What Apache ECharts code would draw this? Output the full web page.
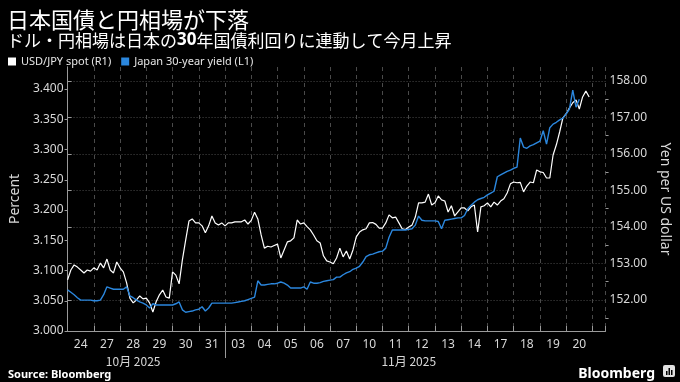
<!DOCTYPE html>
<html><head><meta charset="utf-8">
<script src="https://cdn.jsdelivr.net/npm/echarts@6/dist/echarts.min.js"></script>
<style>html,body{margin:0;padding:0;background:#000;}#c{width:680px;height:382px;}</style>
</head><body><div id="c"></div>
<script>
// ---- data (trading days, 8 intraday samples per day) ----
const dayLabels = ['24','27','28','29','30','31','03','04','05','06','07','10','11','12','13','14','17','18','19','20'];
const monthLabels = ['10月 2025','11月 2025'];
const yieldTicks = [3.0,3.05,3.1,3.15,3.2,3.25,3.3,3.35,3.4];
const yenTicks = [152,153,154,155,156,157,158];
const yenMinorTicks = [151.5,152.5,153.5,154.5,155.5,156.5,157.5];
const samplesPerDay = 8;

const usdjpy = [
  [152.55,152.82,152.96,152.90,152.82,152.74,152.82,152.79],
  [152.88,152.82,153.01,152.88,153.12,152.82,152.74,153.04],
  [152.88,152.77,152.47,152.05,151.92,152.00,152.11,152.03],
  [152.05,151.92,151.67,151.95,152.14,152.27,152.08,152.05],
  [152.77,152.68,152.44,153.10,153.64,154.16,154.22,154.11],
  [154.11,154.03,153.84,154.03,154.30,154.11,154.05,154.11],
  [154.03,154.11,154.11,154.14,154.14,154.14,154.19,154.08],
  [154.18,154.40,154.22,153.78,153.42,153.47,153.45,153.49],
  [153.53,153.15,153.37,153.59,153.62,153.70,154.19,154.08],
  [154.11,154.01,153.92,153.78,153.62,153.56,153.21,153.07],
  [153.04,152.99,153.15,153.42,153.18,153.34,153.12,153.37],
  [153.73,153.86,153.92,153.95,154.11,154.12,154.07,153.97],
  [153.97,154.11,154.33,154.25,154.27,154.11,153.95,153.93],
  [154.00,154.05,154.27,154.66,154.66,154.68,154.90,154.60],
  [154.66,154.85,154.74,154.71,154.41,154.58,154.30,154.41],
  [154.52,154.52,154.44,154.55,154.60,153.86,154.55,154.58],
  [154.66,154.55,154.68,154.60,154.71,154.77,154.93,155.18],
  [155.23,155.21,155.22,154.96,155.12,155.23,155.21,155.56],
  [155.51,155.49,155.34,155.34,155.97,156.25,156.60,156.99],
  [157.10,157.26,157.40,157.48,157.23,157.56,157.72,157.56]
];

const jgb30 = [
  [3.068,3.064,3.060,3.055,3.051,3.051,3.051,3.051],
  [3.050,3.050,3.051,3.060,3.073,3.071,3.069,3.069],
  [3.069,3.069,3.073,3.058,3.055,3.051,3.048,3.046],
  [3.043,3.038,3.045,3.043,3.043,3.043,3.043,3.043],
  [3.043,3.045,3.048,3.035,3.031,3.032,3.033,3.035],
  [3.036,3.040,3.033,3.038,3.046,3.046,3.046,3.046],
  [3.046,3.046,3.046,3.047,3.048,3.049,3.050,3.052],
  [3.054,3.056,3.083,3.076,3.076,3.077,3.078,3.078],
  [3.079,3.081,3.079,3.076,3.071,3.071,3.071,3.071],
  [3.073,3.069,3.081,3.079,3.079,3.080,3.082,3.083],
  [3.084,3.085,3.089,3.089,3.093,3.096,3.098,3.102],
  [3.104,3.107,3.114,3.123,3.126,3.127,3.129,3.131],
  [3.132,3.137,3.155,3.167,3.167,3.167,3.167,3.167],
  [3.168,3.169,3.175,3.190,3.183,3.182,3.182,3.182],
  [3.182,3.181,3.169,3.183,3.184,3.185,3.186,3.187],
  [3.187,3.191,3.202,3.208,3.213,3.217,3.219,3.221],
  [3.225,3.228,3.231,3.255,3.258,3.261,3.264,3.266],
  [3.269,3.271,3.319,3.304,3.302,3.306,3.308,3.311],
  [3.314,3.331,3.309,3.336,3.342,3.345,3.349,3.352],
  [3.359,3.367,3.398,3.370,3.383]
];

function toPoints(days){
  const out = [];
  days.forEach((vals, d) => vals.forEach((v, k) => out.push([d + k / samplesPerDay, v])));
  return out;
}

const LATIN = '"Noto Sans", "DejaVu Sans", sans-serif';
const CJK = '"Noto Sans CJK JP", "Noto Sans", sans-serif';
const AX = '#9a9a9a';
const TXT = '#d8d8d8';
const BLUE = '#2b87de';

const chart = echarts.init(document.getElementById('c'), null, {renderer:'canvas'});
chart.setOption({
  backgroundColor:'#000',
  animation:false,
  textStyle:{fontFamily:LATIN},
  title:[
    {text:'日本国債と円相場が下落', left:2, top:4,
     textStyle:{color:'#fff', fontSize:22, fontWeight:'normal', fontFamily:CJK}},
    {text:'ドル・円相場は日本の{b|30}年国債利回りに連動して今月上昇', left:2, top:27,
     textStyle:{color:'#fff', fontSize:17, fontWeight:'normal', fontFamily:CJK,
       rich:{b:{fontWeight:'bold', fontSize:17, color:'#fff', fontFamily:LATIN}}}},
    {text:'Source: Bloomberg', left:3, top:364,
     textStyle:{color:'#fff', fontSize:11, fontWeight:'bold', fontFamily:LATIN}},
    {text:'Bloomberg', right:20, top:362,
     textStyle:{color:'#fff', fontSize:14, fontWeight:'bold', fontFamily:LATIN}}
  ],
  graphic:[
    {type:'group', right:5, top:365, children:[
      {type:'rect', shape:{x:0,y:0,width:12,height:12,r:2}, style:{fill:'#e0e0e0'}},
      {type:'rect', shape:{x:3,y:6,width:1.5,height:4}, style:{fill:'#000'}},
      {type:'rect', shape:{x:5.5,y:3,width:1.5,height:7}, style:{fill:'#000'}},
      {type:'rect', shape:{x:8,y:5,width:1.5,height:5}, style:{fill:'#000'}}
    ]}
  ],
  legend:{left:3, top:51, itemWidth:8, itemHeight:8, itemGap:10, icon:'rect',
    textStyle:{color:'#e6e6e6', fontSize:11, fontFamily:LATIN},
    data:['USD/JPY spot (R1)','Japan 30-year yield (L1)']},
  grid:{left:56, right:63, top:67, bottom:51},
  xAxis:[
    {type:'value', min:0, max:20.5, interval:1,
     axisLine:{show:true, lineStyle:{color:AX}},
     axisTick:{show:true, inside:true, length:5, lineStyle:{color:AX}},
     splitLine:{show:true, lineStyle:{color:'#4a4a4a', type:[4,4], width:1}},
     axisLabel:{customValues:dayLabels.map((_, i) => i + 0.5),
       formatter:v => dayLabels[Math.floor(v)], color:TXT, fontSize:12, margin:8}},
    {type:'value', min:0, max:20.5, position:'bottom',
     axisLine:{show:false},
     axisTick:{show:true, customValues:[dayLabels.indexOf('03')], length:27, lineStyle:{color:AX}},
     splitLine:{show:false},
     axisLabel:{customValues:[2.5, 13], formatter:v => (v < dayLabels.indexOf('03') ? monthLabels[0] : monthLabels[1]),
       color:TXT, fontSize:12, margin:24, fontFamily:CJK}}
  ],
  yAxis:[
    {type:'value', position:'left', min:3.0, max:3.4364,
     axisLine:{show:true, lineStyle:{color:AX}},
     axisTick:{show:true, customValues:yieldTicks, length:3, lineStyle:{color:AX}},
     axisLabel:{customValues:yieldTicks, formatter:v => v.toFixed(3), color:TXT, fontSize:12, margin:4},
     splitLine:{show:false},
     name:'Percent', nameLocation:'middle', nameGap:37, nameRotate:90,
     nameTextStyle:{color:TXT, fontSize:14}},
    {type:'value', position:'right', min:151.15, max:158.38,
     axisLine:{show:true, lineStyle:{color:AX}},
     axisTick:{show:true, customValues:yenTicks, length:4, lineStyle:{color:AX}},
     axisLabel:{customValues:yenTicks, formatter:v => v.toFixed(2), color:TXT, fontSize:12, margin:4},
     splitLine:{show:true, lineStyle:{color:'#4a4a4a', type:[1,2], width:1}},
     name:'Yen per US dollar', nameLocation:'middle', nameGap:50, nameRotate:-90,
     nameTextStyle:{color:TXT, fontSize:14}},
    {type:'value', position:'right', min:151.15, max:158.38,
     axisLine:{show:false},
     axisTick:{show:true, customValues:yenMinorTicks, length:3, lineStyle:{color:AX}},
     axisLabel:{show:false}, splitLine:{show:false}}
  ],
  series:[
    {name:'USD/JPY spot (R1)', type:'line', xAxisIndex:0, yAxisIndex:1,
     data:toPoints(usdjpy), symbol:'none', lineStyle:{color:'#fff', width:1.2}, itemStyle:{color:'#fff'}, z:2},
    {name:'Japan 30-year yield (L1)', type:'line', xAxisIndex:0, yAxisIndex:0,
     data:toPoints(jgb30), symbol:'none', lineStyle:{color:BLUE, width:1.4}, itemStyle:{color:BLUE}, z:3}
  ]
});
</script>
</body></html>
